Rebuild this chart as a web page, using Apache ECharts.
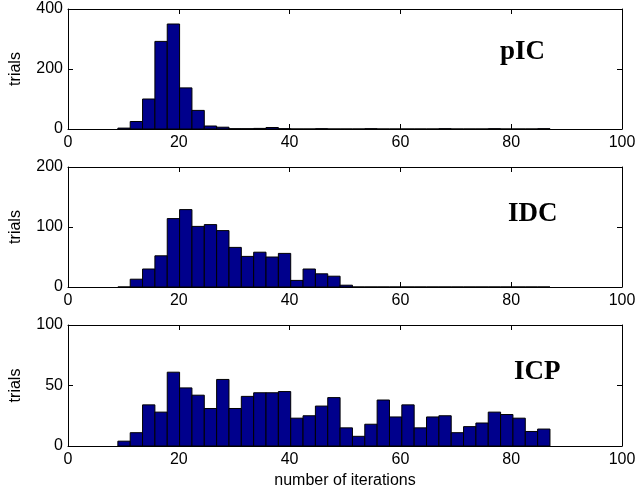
<!DOCTYPE html>
<html>
<head>
<meta charset="utf-8">
<style>
  html, body { margin: 0; padding: 0; background: #fff; }
  #chart { width: 640px; height: 493px; }
</style>
<script src="https://cdn.jsdelivr.net/npm/echarts@6/dist/echarts.min.js"></script>
</head>
<body>
<div id="chart"></div>
<script>
// Histogram bins: 35 equal bins between the fewest and most iterations seen
const binStart = 9;
const binEnd = 87;
const binCount = 35;

// Trial counts per bin for each method
const pIC = [3, 25, 100, 292, 350, 137, 62, 10, 6, 1, 1, 2, 5, 1, 0, 0, 1, 0, 0, 0,
             1, 0, 0, 0, 0, 0, 1, 0, 0, 0, 1, 0, 0, 0, 1];
const IDC = [0, 13, 30, 52, 114, 129, 101, 104, 94, 66, 51, 58, 50, 56, 11, 30, 22, 18, 3, 0,
             0, 0, 0, 0, 0, 0, 0, 0, 0, 0, 0, 0, 0, 0, 0];
const ICP = [4, 11, 34, 28, 61, 48, 42, 31, 55, 31, 41, 44, 44, 45, 23, 25, 33, 40, 15, 8,
             18, 38, 24, 34, 15, 24, 25, 11, 16, 19, 28, 26, 23, 12, 14];

const panelNames = ['pIC', 'IDC', 'ICP'];
const panelCounts = [pIC, IDC, ICP];
const yMax = [400, 200, 100];
const yStep = [200, 100, 50];

const binWidth = (binEnd - binStart) / binCount;
function toBins(counts) {
  return counts.map((n, i) => [binStart + i * binWidth, binStart + (i + 1) * binWidth, n]);
}

function renderBar(params, api) {
  const lo = api.value(0), hi = api.value(1), n = api.value(2);
  const p0 = api.coord([lo, 0]);
  const p1 = api.coord([hi, n]);
  return {
    type: 'rect',
    shape: { x: p0[0], y: p1[1], width: p1[0] - p0[0], height: p0[1] - p1[1] },
    style: { fill: '#00008c', stroke: '#000000', lineWidth: 1 }
  };
}

const FONT = 'Liberation Sans, Arial, Helvetica, sans-serif';
const grids = [
  { left: 68, right: 18, top: 9, height: 120 },
  { left: 68, right: 18, top: 167, height: 120 },
  { left: 68, right: 18, top: 325, height: 121 }
];

const xAxes = [], yAxes = [], series = [], titles = [];
const titlePos = [[500, 39], [508, 201], [514, 359]];

grids.forEach((g, i) => {
  // bottom axis with labels
  xAxes.push({
    type: 'value', gridIndex: i, min: 0, max: 100, interval: 20, position: 'bottom',
    axisLine: { show: true, onZero: false, lineStyle: { color: '#000', width: 1 } },
    axisTick: { show: true, inside: true, length: 5, lineStyle: { color: '#000' } },
    axisLabel: { show: true, color: '#000', fontSize: 16, fontFamily: FONT, margin: 6 },
    splitLine: { show: false },
    name: i === 2 ? 'number of iterations' : '',
    nameLocation: 'middle', nameGap: 27,
    nameTextStyle: { color: '#000', fontSize: 16, fontFamily: FONT }
  });
  // top edge of the box
  xAxes.push({
    type: 'value', gridIndex: i, min: 0, max: 100, interval: 20, position: 'top',
    axisLine: { show: true, onZero: false, lineStyle: { color: '#000', width: 1 } },
    axisTick: { show: true, inside: true, length: 5, lineStyle: { color: '#000' } },
    axisLabel: { show: false }, splitLine: { show: false }
  });
  yAxes.push({
    type: 'value', gridIndex: i, min: 0, max: yMax[i], interval: yStep[i], position: 'left',
    axisLine: { show: true, onZero: false, lineStyle: { color: '#000', width: 1 } },
    axisTick: { show: true, inside: true, length: 5, lineStyle: { color: '#000' } },
    axisLabel: { show: true, color: '#000', fontSize: 16, fontFamily: FONT, margin: 5 },
    splitLine: { show: false },
    name: 'trials', nameLocation: 'middle', nameRotate: 90, nameGap: 44,
    nameTextStyle: { color: '#000', fontSize: 16, fontFamily: FONT }
  });
  // right edge of the box
  yAxes.push({
    type: 'value', gridIndex: i, min: 0, max: yMax[i], interval: yStep[i], position: 'right',
    axisLine: { show: true, onZero: false, lineStyle: { color: '#000', width: 1 } },
    axisTick: { show: true, inside: true, length: 5, lineStyle: { color: '#000' } },
    axisLabel: { show: false }, splitLine: { show: false }
  });
  series.push({
    type: 'custom', xAxisIndex: 2 * i, yAxisIndex: 2 * i,
    renderItem: renderBar, clip: true,
    encode: { x: [0, 1], y: 2 },
    data: toBins(panelCounts[i])
  });
  titles.push({
    text: panelNames[i], left: titlePos[i][0], top: titlePos[i][1], padding: 0,
    textStyle: { fontFamily: 'Liberation Serif, Times New Roman, serif', fontWeight: 'bold', fontSize: 27, color: '#000' }
  });
});

const chart = echarts.init(document.getElementById('chart'), null, { renderer: 'canvas' });
chart.setOption({
  animation: false,
  backgroundColor: '#ffffff',
  title: titles,
  grid: grids,
  xAxis: xAxes,
  yAxis: yAxes,
  series: series
});
</script>
</body>
</html>
